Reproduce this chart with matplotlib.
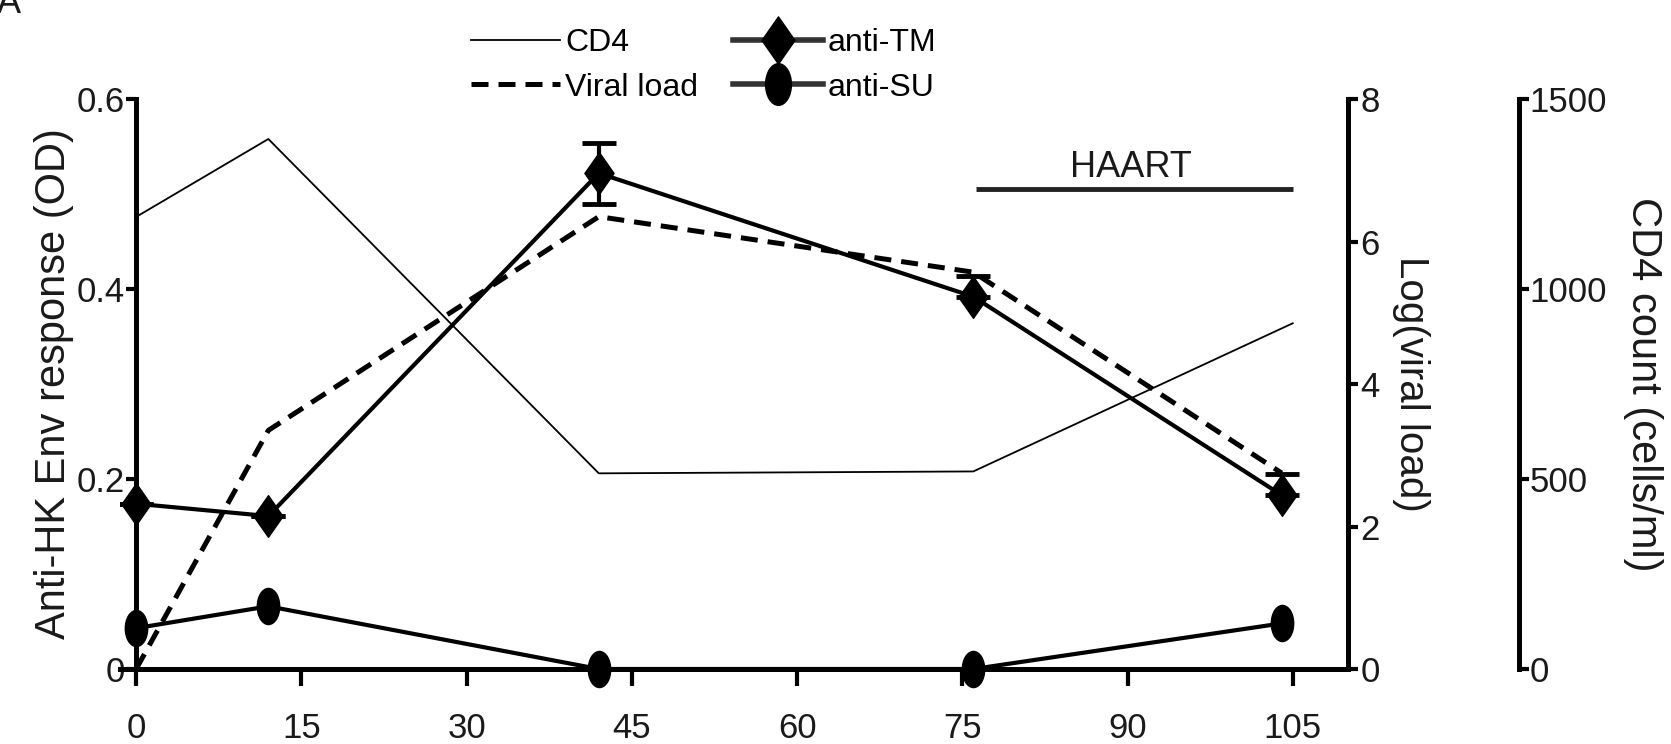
import matplotlib
matplotlib.use('Agg')
import matplotlib.pyplot as plt
import numpy as np
from matplotlib.path import Path
from matplotlib.lines import Line2D

plt.rcParams['font.family'] = ['Liberation Sans', 'DejaVu Sans']

# 数据
days = [0, 12, 42, 76, 104]
anti_tm = [0.174, 0.161, 0.522, 0.392, 0.183]
anti_tm_err_lo = [0.0, 0.0, 0.032, 0.0, 0.0]
anti_tm_err_hi = [0.0, 0.0, 0.032, 0.022, 0.022]
anti_su = [0.043, 0.066, 0.0, 0.0, 0.048]
viral_days = [0, 12, 42, 76, 104]
viral_load = [0.0, 3.35, 6.35, 5.57, 2.75]
cd4_days = [0, 12, 42, 76, 105]
cd4_count = [1190, 1395, 515, 520, 910]

x_ticks = [0, 15, 30, 45, 60, 75, 90, 105]
od_ticks = [0, 0.2, 0.4, 0.6]
od_labels = ['0', '0.2', '0.4', '0.6']
vl_ticks = [0, 2, 4, 6, 8]
cd4_ticks = [0, 500, 1000, 1500]
haart_span = [76.2, 105]
haart_level = 0.505

# 自定义标记：竖椭圆和竖菱形
circ = Path.unit_circle()
ellipse = Path(circ.vertices * np.array([0.62, 1.0]), circ.codes)
diamond = Path([(0, 1), (0.7, 0), (0, -1), (-0.7, 0), (0, 1)],
               [Path.MOVETO, Path.LINETO, Path.LINETO, Path.LINETO, Path.CLOSEPOLY])

narrow = ['Liberation Sans Narrow', 'Liberation Sans']
txt = '#1a1a1a'

fig = plt.figure(figsize=(16.71, 7.44), dpi=100)
ax = fig.add_axes([0.0716, 0.1008, 0.735, 0.766])
ax_v = ax.twinx()
ax_c = ax.twinx()

spine_w = 3.6
for a in (ax, ax_v, ax_c):
    for s in a.spines.values():
        s.set_visible(False)
        s.set_linewidth(spine_w)

ax.set_xlim(-1.5, 110)
ax.set_ylim(0, 0.6)
ax_v.set_ylim(0, 8)
ax_c.set_ylim(0, 1500)

ax.spines['left'].set_visible(True)
ax.spines['left'].set_position(('data', 0))
ax.spines['bottom'].set_visible(True)
ax_v.spines['right'].set_visible(True)
ax_c.spines['right'].set_visible(True)
ax_c.spines['right'].set_position(('axes', 1.139))

ax.set_xticks(x_ticks)
ax.set_xticklabels([str(t) for t in x_ticks], family=narrow, fontsize=25, color=txt)
ax.tick_params(axis='x', direction='out', length=12, width=3, pad=19)
ax.set_yticks(od_ticks)
ax.set_yticklabels(od_labels, fontsize=25, color=txt)
ax.tick_params(axis='y', direction='out', length=7, width=3, pad=1)

ax_v.set_yticks(vl_ticks)
ax_v.tick_params(axis='y', direction='out', length=7, width=3, pad=2, labelsize=25,
                 labelcolor=txt)
ax_c.set_yticks(cd4_ticks)
ax_c.tick_params(axis='y', direction='out', length=7, width=3, pad=1, labelsize=25,
                 labelcolor=txt)

ax.set_ylabel('Anti-HK Env response (OD)', fontsize=30, color=txt, labelpad=2)
ax_v.set_ylabel('Log(viral load)', fontsize=29, color=txt, rotation=270,
                labelpad=36)
ax_c.set_ylabel('CD4 count (cells/ml)', fontsize=30, color=txt, rotation=270,
                labelpad=40)

# CD4
ax_c.plot(cd4_days, cd4_count, color='black', lw=1.3)
# 病毒载量
ax_v.plot(viral_days, viral_load, color='black', lw=3.6, dashes=(3.4, 2.0))
# anti-TM
ax.errorbar(days, anti_tm, yerr=[anti_tm_err_lo, anti_tm_err_hi], fmt='none',
            ecolor='black', elinewidth=3, capsize=12, capthick=3.5, zorder=3)
ax.plot(days, anti_tm, color='black', lw=3, marker=diamond, markersize=30,
        clip_on=False, zorder=4)
# anti-SU
ax.plot(days, anti_su, color='black', lw=3, marker=ellipse, markersize=26,
        clip_on=False, zorder=4)

# HAART
ax.plot(haart_span, [haart_level, haart_level], color='#222222', lw=3.5,
        solid_capstyle='butt')
ax.text(np.mean(haart_span) - 0.3, haart_level + 0.005, 'HAART', ha='center',
        va='bottom', fontsize=26, color=txt)

# 图例
handles = [
    Line2D([], [], color='black', lw=1.3),
    Line2D([], [], color='black', lw=3.6, dashes=(3.4, 2.0)),
    Line2D([], [], color='#333333', lw=4, marker=diamond, markersize=34,
           markerfacecolor='black', markeredgecolor='black'),
    Line2D([], [], color='#333333', lw=4, marker=ellipse, markersize=30,
           markerfacecolor='black', markeredgecolor='black'),
]
labels = ['CD4', 'Viral load', 'anti-TM', 'anti-SU']
fig.legend(handles, labels, loc='center', bbox_to_anchor=(0.421, 0.912), ncol=2,
           frameon=False, handlelength=2.8, handletextpad=0.15, columnspacing=1.1,
           labelspacing=0.45, prop={'family': narrow, 'size': 23})

fig.text(-0.002, 1 - 13 / 744, 'A', fontsize=26, va='baseline', color=txt)

fig.savefig('out.png', dpi=100)
